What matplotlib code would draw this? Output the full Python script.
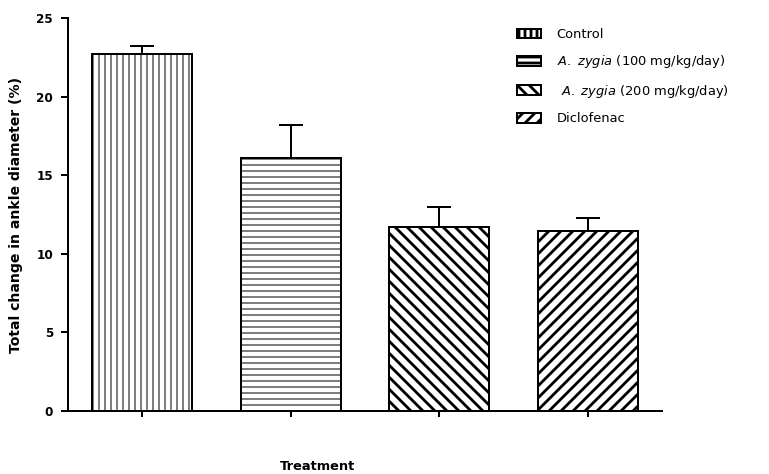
import matplotlib
matplotlib.use("Agg")
import matplotlib.pyplot as plt
import numpy as np

plt.rcParams['font.family'] = ['DejaVu Sans']
plt.rcParams['mathtext.fontset'] = 'dejavusans'

groups = ['Control', r'$\mathit{A.\ zygia}$ (100 mg/kg/day)',
          r' $\mathit{A.\ zygia}$ (200 mg/kg/day)', 'Diclofenac']
means = [22.7, 16.1, 11.7, 11.45]
sem = [0.55, 2.1, 1.3, 0.85]
hatches = ['||', '--', '\\\\', '//']
hatch_lw = [1.0, 1.0, 2.8, 2.8]

dpi = 72
fig = plt.figure(figsize=(769 / dpi, 474 / dpi), dpi=dpi)
ax = fig.add_axes([68 / 769, 63 / 474, 594 / 769, 393 / 474])

x = np.arange(len(means))
for i in range(len(means)):
    plt.rcParams['hatch.linewidth'] = hatch_lw[i]
    b = ax.bar(x[i], means[i], width=0.675, color='white', edgecolor='black',
               linewidth=2, hatch=hatches[i], label=groups[i], zorder=2)
    for p in b:
        if hasattr(p, 'set_hatch_linewidth'):
            p.set_hatch_linewidth(hatch_lw[i])

ax.errorbar(x, means, yerr=[np.zeros(len(sem)), sem], fmt='none', ecolor='black',
            elinewidth=2, capsize=12, capthick=2, zorder=1)

ax.set_xlim(-0.5, 3.5)
ax.set_ylim(0, 25)
ax.set_yticks([0, 5, 10, 15, 20, 25])
ax.set_xticks(x)
ax.set_xticklabels([])
for s in ['top', 'right']:
    ax.spines[s].set_visible(False)
for s in ['left', 'bottom']:
    ax.spines[s].set_linewidth(2)
ax.tick_params(axis='y', width=2, length=7, pad=8, labelsize=12)
ax.tick_params(axis='x', width=2, length=6)
for t in ax.get_yticklabels():
    t.set_fontweight('bold')

ax.set_ylabel('Total change in ankle diameter (%)', fontsize=14, fontweight='bold')
ax.yaxis.set_label_coords(-0.076, 0.5)
ax.set_xlabel('Treatment', fontsize=13, fontweight='bold')
ax.xaxis.set_label_coords(0.42, -0.125)

leg = ax.legend(loc='upper left', bbox_to_anchor=(517 / 769, 446 / 474),
                bbox_transform=fig.transFigure, frameon=False, fontsize=13,
                handlelength=1.85, handleheight=0.8, labelspacing=0.95,
                handletextpad=1.2, borderpad=0, borderaxespad=0)

fig.savefig('out.png', dpi=dpi)
